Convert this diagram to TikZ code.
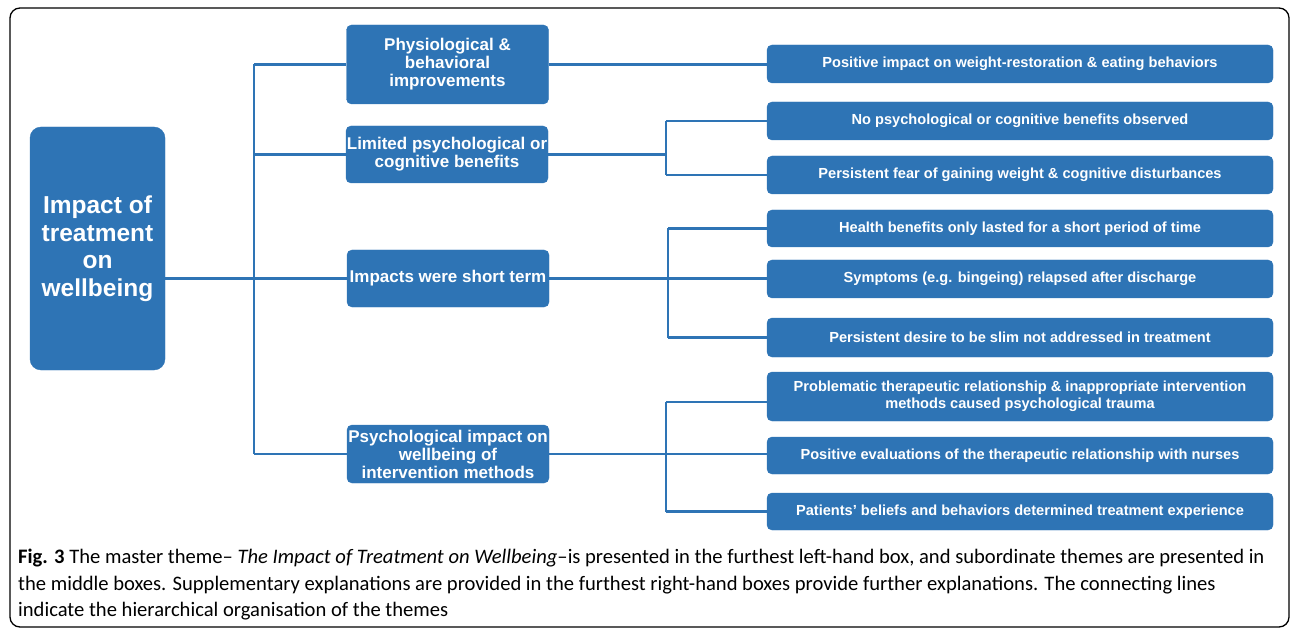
\documentclass[tikz,border=0pt]{standalone}
\usepackage{fontspec}
\setmainfont{Liberation Sans}
\newfontfamily\capfont{Carlito}
\usetikzlibrary{calc}
\definecolor{boxblue}{RGB}{46,116,181}
\begin{document}
\begin{tikzpicture}[x=1pt,y=-1pt,
 box/.style={fill=boxblue, draw=boxblue, text=white, rounded corners=5pt, inner sep=0pt, align=center},
 rbox/.style={box, minimum width=506pt, font=\bfseries\fontsize{14.6}{16.5}\selectfont},
 mbox/.style={box, minimum width=202pt, font=\bfseries\fontsize{17}{18}\selectfont},
 link/.style={draw=boxblue, line width=2.8pt}]
\useasboundingbox (0,0) rectangle (1290,628);
\draw[line width=1.3pt, rounded corners=10pt] (10,8) rectangle (1289,627);

% root
\node[box, rounded corners=11pt, minimum width=135pt, minimum height=243pt,
  font=\bfseries\fontsize{24.5}{27.5}\selectfont] (root) at (97.5,248.5)
  {Impact of\\treatment\\on\\wellbeing};

% middle
\node[mbox, minimum height=79pt] (phys) at (447.5,64.5) {Physiological \&\\behavioral\\improvements};
\node[mbox, minimum height=57pt] (lim) at (447,154.5) {Limited psychological or\\cognitive benefits};
\node[mbox, minimum height=57pt] (imp) at (448,278.5) {Impacts were short term};
\node[mbox, minimum height=58pt] (psy) at (448,454) {Psychological impact on\\wellbeing of\\intervention methods};

% right
\node[rbox, minimum height=38pt] (r1) at (1020,64) {Positive impact on weight-restoration \& eating behaviors};
\node[rbox, minimum height=38pt] (r2) at (1020,121) {No psychological or cognitive benefits observed};
\node[rbox, minimum height=38pt] (r3) at (1020,175) {Persistent fear of gaining weight \& cognitive disturbances};
\node[rbox, minimum height=37pt] (r4) at (1020,228.5) {Health benefits only lasted for a short period of time};
\node[rbox, minimum height=38pt] (r5) at (1020,279) {Symptoms (e.g. bingeing) relapsed after discharge};
\node[rbox, minimum height=39pt] (r6) at (1020,337.5) {Persistent desire to be slim not addressed in treatment};
\node[rbox, minimum height=49pt] (r7) at (1020,396.5) {Problematic therapeutic relationship \& inappropriate intervention\\methods caused psychological trauma};
\node[rbox, minimum height=37pt] (r8) at (1020,455.5) {Positive evaluations of the therapeutic relationship with nurses};
\node[rbox, minimum height=37pt] (r9) at (1020,511.5) {Patients’ beliefs and behaviors determined treatment experience};

% junction coordinates
\coordinate (j0) at (254,0);
\coordinate (j1) at (666,0);
\coordinate (j2) at (668,0);
\coordinate (j3) at (666,0);
\coordinate (r7in) at ($(r7.west)+(0,5.5)$);

% root to middle
\draw[link] (root.east |- imp.west) -- (imp.west);
\draw[link] (j0 |- phys.west) -- (j0 |- psy.west);
\draw[link] (j0 |- phys.west) -- (phys.west);
\draw[link] (j0 |- lim.west) -- (lim.west);
\draw[link] (j0 |- psy.west) -- (psy.west);

% middle to right
\draw[link] (phys.east) -- (phys.east -| r1.west);
\draw[link] (lim.east) -- (j1 |- lim.east);
\draw[link] (j1 |- r2.west) -- (j1 |- r3.west);
\draw[link] (j1 |- r2.west) -- (r2.west);
\draw[link] (j1 |- r3.west) -- (r3.west);

\draw[link] (imp.east) -- (imp.east -| r5.west);
\draw[link] (j2 |- r4.west) -- (j2 |- r6.west);
\draw[link] (j2 |- r4.west) -- (r4.west);
\draw[link] (j2 |- r6.west) -- (r6.west);

\draw[link] (psy.east) -- (psy.east -| r8.west);
\draw[link] (j3 |- r7in) -- (j3 |- r9.west);
\draw[link] (j3 |- r7in) -- (r7in);
\draw[link] (j3 |- r9.west) -- (r9.west);

% caption
\node[anchor=north west, inner sep=0pt, align=left, font=\capfont\fontsize{20.6}{26.5}\selectfont] (cap) at (18,549)
 {\textbf{Fig. 3} The master theme– \textit{The Impact of Treatment on Wellbeing}–is presented in the furthest left-hand box, and subordinate themes are presented in\\
 the middle boxes. Supplementary explanations are provided in the furthest right-hand boxes provide further explanations. The connecting lines\\
 indicate the hierarchical organisation of the themes};
\end{tikzpicture}
\end{document}
